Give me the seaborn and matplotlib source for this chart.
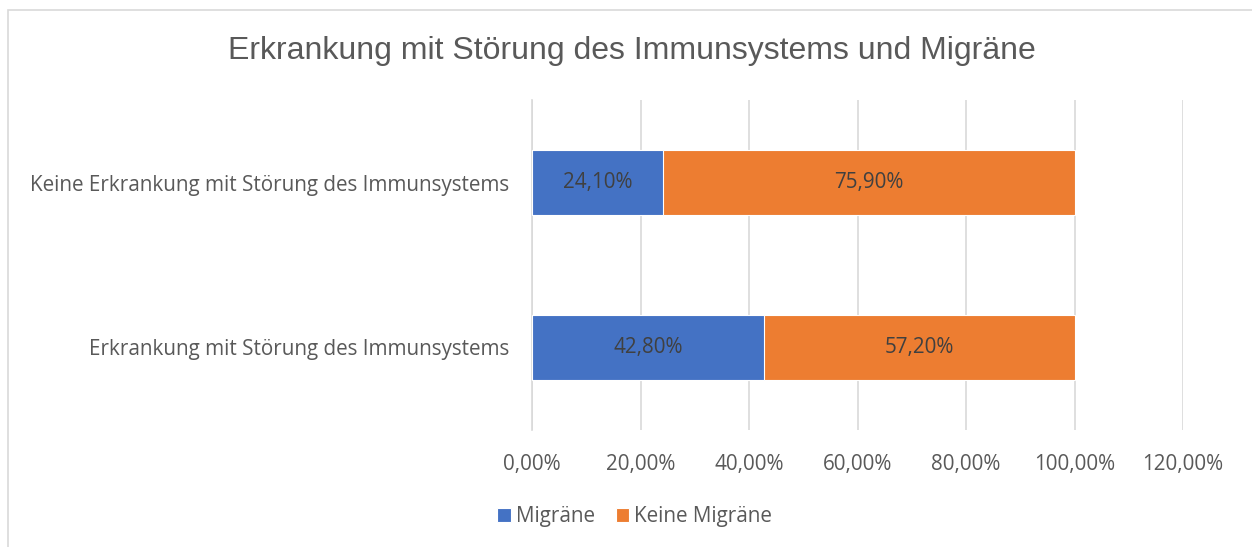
import numpy as np
import pandas as pd
import seaborn as sns
import matplotlib.pyplot as plt
from matplotlib.patches import Rectangle
from matplotlib.ticker import FuncFormatter

# data
categories = ["Keine Erkrankung mit Störung des Immunsystems",
              "Erkrankung mit Störung des Immunsystems"]
migraene = [24.10, 42.80]
keine_migraene = [75.90, 57.20]
series_names = ["Migräne", "Keine Migräne"]
colors = ["#4472C4", "#ED7D31"]

df = pd.DataFrame({"cat": categories, "mig": migraene, "keine": keine_migraene})
df["total"] = df["mig"] + df["keine"]

sns.set_style("white")
plt.rcParams["font.family"] = ["Open Sans", "DejaVu Sans"]
FS = 14.9

fig = plt.figure(figsize=(12.52, 5.47), dpi=100)
ax = fig.add_axes([0.425, 0.214, 0.52, 0.603])

# stacked: full bar in orange, blue part on top
sns.barplot(data=df, y="cat", x="total", color=colors[1], width=0.39,
            orient="h", ax=ax, saturation=1, zorder=3, label=series_names[1])
sns.barplot(data=df, y="cat", x="mig", color=colors[0], width=0.39,
            orient="h", ax=ax, saturation=1, zorder=4, label=series_names[0])

for p in ax.patches:
    p.set_edgecolor("white")
    p.set_linewidth(0.8)

# labels
for i in range(len(categories)):
    ax.text(migraene[i] / 2, i, f"{migraene[i]:.2f}%".replace(".", ","),
            ha="center", va="center", fontsize=FS, color="#404040", zorder=5)
    ax.text(migraene[i] + keine_migraene[i] / 2, i,
            f"{keine_migraene[i]:.2f}%".replace(".", ","),
            ha="center", va="center", fontsize=FS, color="#404040", zorder=5)

ax.set_xlim(0, 120)
ax.set_ylim(1.5, -0.5)
ax.set_xticks(np.arange(0, 121, 20))
ax.xaxis.set_major_formatter(FuncFormatter(lambda v, _: f"{v:.2f}%".replace(".", ",")))
ax.grid(axis="x", color="#D9D9D9", linewidth=1.2, zorder=0)
ax.set_xlabel("")
ax.set_ylabel("")
for s in ["top", "right", "bottom"]:
    ax.spines[s].set_visible(False)
ax.spines["left"].set_color("#D9D9D9")
ax.spines["left"].set_linewidth(1.2)
ax.tick_params(axis="both", length=0, labelsize=FS, colors="#595959")
ax.tick_params(axis="x", pad=17)
ax.tick_params(axis="y", pad=16.5)

handles, labels = ax.get_legend_handles_labels()
if ax.get_legend() is not None:
    ax.get_legend().remove()

fig.text(0.505, 0.906, "Erkrankung mit Störung des Immunsystems und Migräne",
         ha="center", va="center", fontsize=23, color="#595959",
         family=["Liberation Sans", "DejaVu Sans"])

order = [labels.index(n) for n in series_names]
leg = fig.legend([handles[k] for k in order], [labels[k] for k in order],
                 loc="center", bbox_to_anchor=(0.507, 0.055), ncol=2, frameon=False,
                 fontsize=FS, handlelength=0.65, handleheight=0.65, handletextpad=0.25,
                 columnspacing=1.0)
for t in leg.get_texts():
    t.set_color("#595959")

fig.patches.append(Rectangle((8 / 1252, -0.1), 1.2, 1 - 10 / 547 + 0.1,
                             transform=fig.transFigure, fill=False,
                             edgecolor="#D9D9D9", linewidth=1.2))

fig.savefig("out.png", dpi=100)
